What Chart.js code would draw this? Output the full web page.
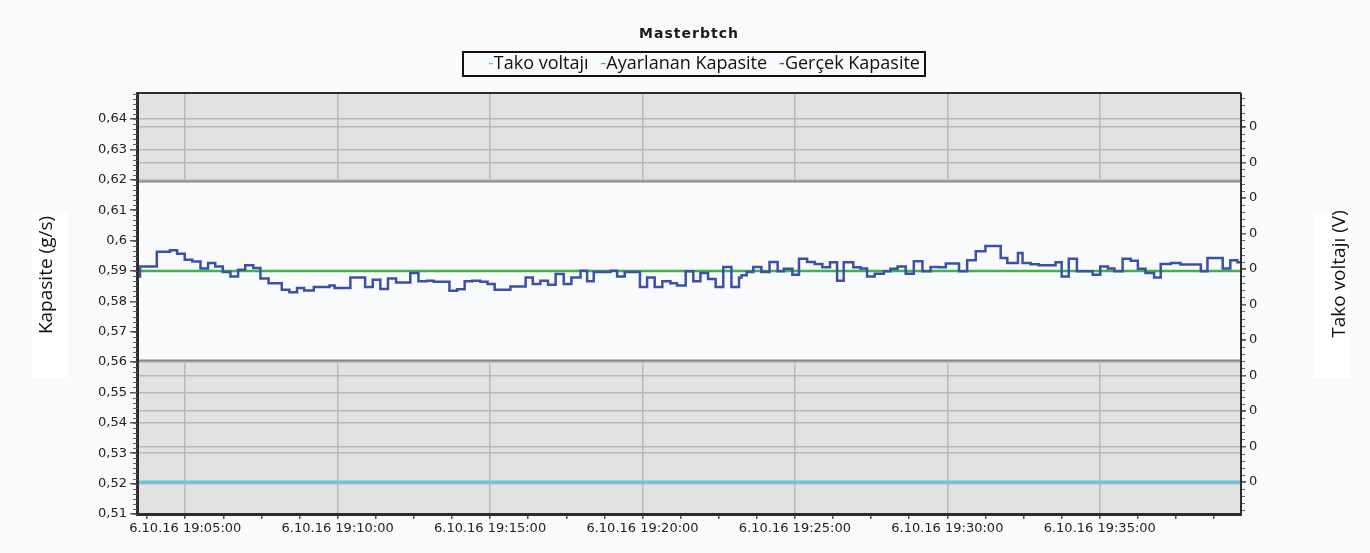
<!DOCTYPE html>
<html><head><meta charset="utf-8">
<script src="https://cdn.jsdelivr.net/npm/chart.js@4.4.1/dist/chart.umd.min.js"></script>
<style>html,body{margin:0;padding:0;background:#f9fafb;}canvas{display:block;}</style>
</head><body>
<canvas id="c" width="1370" height="553"></canvas>
<script>
// ---------- data ----------
const chartTitle = 'Masterbtch';
const seriesNames = ['Tako voltajı', 'Ayarlanan Kapasite', 'Gerçek Kapasite'];
const seriesColors = ['#62c7dc', '#3cb44b', '#3b50a6'];
const leftAxisTitle = 'Kapasite (g/s)';
const rightAxisTitle = 'Tako voltajı (V)';
const dateLabel = '6.10.16';
const timeRange = ['19:03:27', '19:39:38'];
const xTickTimes = ['19:05:00', '19:10:00', '19:15:00', '19:20:00', '19:25:00', '19:30:00', '19:35:00'];
const leftTicks = [0.51, 0.52, 0.53, 0.54, 0.55, 0.56, 0.57, 0.58, 0.59, 0.6, 0.61, 0.62, 0.63, 0.64];
const leftRange = [0.51, 0.6486];
const rightTicks = [0, 0.01, 0.02, 0.03, 0.04, 0.05, 0.06, 0.07, 0.08, 0.09, 0.10];
const rightRange = [-0.009, 0.1095];
const toleranceBand = [0.5605, 0.6195];
const setCapacity = 0.59;
const takoVoltage = 0;
const realTimes = [
 '19:03:27','19:03:31','19:04:04','19:04:30','19:04:44','19:04:59','19:05:14','19:05:30','19:05:45','19:05:59',
 '19:06:14','19:06:29','19:06:44','19:06:58','19:07:14','19:07:28','19:07:44','19:08:10','19:08:25','19:08:40',
 '19:08:54','19:09:13','19:09:44','19:09:54','19:10:25','19:10:54','19:11:09','19:11:24','19:11:39','19:11:55',
 '19:12:23','19:12:39','19:12:56','19:13:09','19:13:40','19:13:55','19:14:10','19:14:25','19:14:41','19:14:55',
 '19:15:09','19:15:40','19:16:10','19:16:24','19:16:39','19:16:54','19:17:09','19:17:25','19:17:40','19:17:58',
 '19:18:11','19:18:24','19:18:57','19:19:10','19:19:25','19:19:55','19:20:09','19:20:24','19:20:39','19:20:55',
 '19:21:08','19:21:25','19:21:40','19:21:54','19:22:09','19:22:24','19:22:39','19:22:55','19:23:10','19:23:15',
 '19:23:25','19:23:38','19:23:54','19:24:10','19:24:26','19:24:38','19:24:55','19:25:08','19:25:24','19:25:39',
 '19:25:54','19:26:09','19:26:23','19:26:36','19:26:55','19:27:09','19:27:22','19:27:37','19:27:55','19:28:08',
 '19:28:22','19:28:38','19:28:54','19:29:11','19:29:27','19:29:43','19:29:57','19:30:23','19:30:39','19:30:56',
 '19:31:15','19:31:45','19:31:58','19:32:19','19:32:28','19:32:44','19:33:00','19:33:33','19:33:45','19:33:59',
 '19:34:15','19:34:46','19:35:01','19:35:16','19:35:29','19:35:45','19:36:01','19:36:15','19:36:30','19:36:47',
 '19:37:00','19:37:20','19:37:39','19:38:19','19:38:32','19:39:02','19:39:17','19:39:31','19:39:38'
];
const realValues = [
 0.5882,0.5915,0.5963,0.5968,0.5957,0.5937,0.5931,0.5908,0.5926,0.5915,
 0.5897,0.5882,0.5904,0.5919,0.5910,0.5875,0.5860,0.5838,0.5830,0.5844,
 0.5836,0.5847,0.5852,0.5844,0.5879,0.5847,0.5871,0.5841,0.5875,0.5862,
 0.5893,0.5866,0.5868,0.5865,0.5835,0.5840,0.5866,0.5868,0.5865,0.5857,
 0.5838,0.5849,0.5879,0.5857,0.5868,0.5855,0.5890,0.5857,0.5879,0.5901,
 0.5866,0.5897,0.5901,0.5882,0.5897,0.5847,0.5879,0.5847,0.5866,0.5860,
 0.5852,0.5899,0.5866,0.5893,0.5874,0.5847,0.5913,0.5847,0.5879,0.5886,
 0.5897,0.5913,0.5897,0.5930,0.5899,0.5907,0.5888,0.5940,0.5930,0.5923,
 0.5912,0.5929,0.5868,0.5929,0.5912,0.5908,0.5882,0.5891,0.5899,0.5907,
 0.5915,0.5891,0.5932,0.5899,0.5913,0.5912,0.5925,0.5899,0.5935,0.5965,
 0.5982,0.5943,0.5926,0.5959,0.5926,0.5922,0.5919,0.5929,0.5882,0.5940,
 0.5899,0.5888,0.5915,0.5908,0.5899,0.5940,0.5934,0.5907,0.5893,0.5879,
 0.5923,0.5926,0.5921,0.5899,0.5943,0.5908,0.5935,0.5929,0.5929
];

// ---------- helpers ----------
const sec = s => { const p = s.split(':').map(Number); return p[0] * 3600 + p[1] * 60 + p[2]; };
const pad = n => String(n).padStart(2, '0');
const fmtTime = v => { const h = Math.floor(v / 3600), m = Math.floor((v % 3600) / 60), s = Math.round(v % 60); return pad(h) + ':' + pad(m) + ':' + pad(s); };
const fmtComma = v => String(Math.round(v * 100) / 100).replace('.', ',');
const xMin = sec(timeRange[0]), xMax = sec(timeRange[1]);
const majorX = new Set(xTickTimes.map(sec));
const MINOR_X = 75;
const isMajorX = v => majorX.has(Math.round(v));
const tickFont = { family: 'DejaVu Sans', size: 13 };
const gridColor = '#b9b9b9';

const bgPlugin = {
  id: 'bg',
  beforeDraw(chart) {
    const { ctx, chartArea: a } = chart;
    ctx.save();
    ctx.fillStyle = '#f9fafb';
    ctx.fillRect(0, 0, chart.width, chart.height);
    ctx.fillStyle = '#e2e2e2';
    ctx.fillRect(a.left, a.top, a.right - a.left, a.bottom - a.top);
    ctx.fillStyle = '#ffffff';
    ctx.fillRect(32, 212, 36, 166);
    ctx.fillRect(1313, 212, 38, 166);
    ctx.restore();
  },
  beforeDatasetsDraw(chart) {
    const { ctx, chartArea: a, scales } = chart;
    const yTop = scales.y.getPixelForValue(toleranceBand[1]);
    const yBot = scales.y.getPixelForValue(toleranceBand[0]);
    ctx.save();
    ctx.fillStyle = '#f9fafb';
    ctx.fillRect(a.left, yTop, a.right - a.left, yBot - yTop);
    ctx.strokeStyle = '#c6c6c6';
    ctx.lineWidth = 1;
    ctx.beginPath();
    ctx.moveTo(a.left, yTop - 2); ctx.lineTo(a.right, yTop - 2);
    ctx.moveTo(a.left, yBot + 2); ctx.lineTo(a.right, yBot + 2);
    ctx.stroke();
    ctx.strokeStyle = '#8a8a8a';
    ctx.lineWidth = 2;
    ctx.beginPath();
    ctx.moveTo(a.left, yTop); ctx.lineTo(a.right, yTop);
    ctx.moveTo(a.left, yBot); ctx.lineTo(a.right, yBot);
    ctx.stroke();
    ctx.restore();
  },
  afterDatasetsDraw(chart) {
    const { ctx, chartArea: a } = chart;
    ctx.save();
    ctx.strokeStyle = '#2c2c2c';
    ctx.lineWidth = 2;
    ctx.beginPath();
    ctx.moveTo(a.left, a.top); ctx.lineTo(a.right, a.top);
    ctx.moveTo(a.right, a.top); ctx.lineTo(a.right, a.bottom);
    ctx.stroke();
    ctx.lineWidth = 3;
    ctx.beginPath();
    ctx.moveTo(a.left - 0.5, a.top - 1); ctx.lineTo(a.left - 0.5, a.bottom + 2);
    ctx.moveTo(a.left - 2, a.bottom + 0.5); ctx.lineTo(a.right + 1, a.bottom + 0.5);
    ctx.stroke();
    ctx.restore();
  },
  afterDraw(chart) {
    const { ctx, chartArea: a, scales } = chart;
    ctx.save();
    ctx.strokeStyle = '#666';
    ctx.lineWidth = 1;
    ctx.beginPath();
    const ly = scales.y;
    for (let k = 0; ; k++) {
      const v = leftRange[0] + k * 0.01 / 6;
      if (v > leftRange[1]) break;
      const p = Math.round(ly.getPixelForValue(v)) + 0.5;
      ctx.moveTo(a.left - 5, p); ctx.lineTo(a.left - 1, p);
    }
    const ry = scales.y2;
    for (let k = -4; ; k++) {
      const v = k * 0.002;
      if (v > rightRange[1]) break;
      if (v < rightRange[0]) continue;
      const p = Math.round(ry.getPixelForValue(v)) + 0.5;
      ctx.moveTo(a.right + 1, p); ctx.lineTo(a.right + 4, p);
    }
    ctx.stroke();

    // title
    ctx.fillStyle = '#1a1a1a';
    ctx.font = 'bold 14px "DejaVu Sans"';
    ctx.textAlign = 'center';
    ctx.textBaseline = 'middle';
    if ('letterSpacing' in ctx) ctx.letterSpacing = '1px';
    ctx.fillText(chartTitle, 689, 34);
    if ('letterSpacing' in ctx) ctx.letterSpacing = '0px';

    // legend
    ctx.font = '18px "Open Sans"';
    ctx.textAlign = 'left';
    const gap = 12;
    const widths = seriesNames.map(n => ctx.measureText('-' + n).width);
    const total = widths.reduce((s, w) => s + w, 0) + gap * (seriesNames.length - 1);
    let x = 704 - total / 2;
    const start = x;
    seriesNames.forEach((n, i) => {
      ctx.fillStyle = seriesColors[i];
      ctx.fillText('-', x, 64);
      const dw = ctx.measureText('-').width;
      ctx.fillStyle = '#111';
      ctx.fillText(n, x + dw, 64);
      x += widths[i] + gap;
    });
    const end = x - gap;
    ctx.strokeStyle = '#111';
    ctx.lineWidth = 2;
    ctx.strokeRect(start - 25, 52, end - start + 30, 24);

    // axis titles
    ctx.fillStyle = '#111';
    ctx.font = '19px "Open Sans"';
    ctx.textAlign = 'center';
    ctx.textBaseline = 'middle';
    ctx.save();
    ctx.translate(47, 275);
    ctx.rotate(-Math.PI / 2);
    ctx.fillText(leftAxisTitle, 0, 0);
    ctx.restore();
    ctx.save();
    ctx.translate(1340, 274);
    ctx.rotate(-Math.PI / 2);
    ctx.fillText(rightAxisTitle, 0, 0);
    ctx.restore();
    ctx.restore();
  }
};

const realData = realTimes.map((t, i) => ({ x: sec(t), y: realValues[i] }));

new Chart(document.getElementById('c'), {
  type: 'line',
  data: {
    datasets: [
      { label: seriesNames[2], data: realData, stepped: true, borderColor: seriesColors[2], borderWidth: 2.5, pointRadius: 0, yAxisID: 'y', fill: false },
      { label: seriesNames[1], data: [{ x: xMin, y: setCapacity }, { x: xMax, y: setCapacity }], borderColor: seriesColors[1], borderWidth: 2.5, pointRadius: 0, yAxisID: 'y', fill: false },
      { label: seriesNames[0], data: [{ x: xMin, y: takoVoltage }, { x: xMax, y: takoVoltage }], borderColor: seriesColors[0], borderWidth: 3, pointRadius: 0, yAxisID: 'y2', fill: false }
    ]
  },
  options: {
    responsive: false,
    animation: false,
    devicePixelRatio: 1,
    layout: { padding: { top: 93, left: 0, right: 0, bottom: 0 } },
    plugins: { legend: { display: false }, title: { display: false }, tooltip: { enabled: false } },
    scales: {
      x: {
        type: 'linear', min: xMin, max: xMax,
        afterBuildTicks(scale) {
          const first = sec(xTickTimes[0]);
          let t = first - Math.floor((first - xMin) / MINOR_X) * MINOR_X;
          const ticks = [];
          for (; t <= xMax; t += MINOR_X) ticks.push({ value: t });
          scale.ticks = ticks;
        },
        afterFit(scale) { scale.height = 39; },
        ticks: { autoSkip: false, maxRotation: 0, padding: 2, color: '#222', font: tickFont,
          callback: v => isMajorX(v) ? dateLabel + ' ' + fmtTime(v) : '' },
        grid: { color: c => isMajorX(c.tick.value) ? gridColor : 'rgba(0,0,0,0)', lineWidth: 1.5, tickColor: '#555', tickLength: 5 },
        border: { display: false }
      },
      y: {
        type: 'linear', position: 'left', min: leftRange[0], max: leftRange[1],
        afterBuildTicks(scale) { scale.ticks = leftTicks.map(v => ({ value: v })); },
        afterFit(scale) { scale.width = 138; },
        ticks: { autoSkip: false, padding: 3, color: '#222', font: tickFont, callback: v => fmtComma(v) },
        grid: { color: gridColor, lineWidth: 1.5, tickColor: '#555', tickLength: 8 },
        border: { display: false }
      },
      y2: {
        type: 'linear', position: 'right', min: rightRange[0], max: rightRange[1],
        afterBuildTicks(scale) { scale.ticks = rightTicks.map(v => ({ value: v })); },
        afterFit(scale) { scale.width = 129; },
        ticks: { autoSkip: false, padding: 3, color: '#222', font: tickFont, callback: v => String(Math.round(v)) },
        grid: { color: gridColor, lineWidth: 1.5, tickColor: '#555', tickLength: 5, drawOnChartArea: true },
        border: { display: false }
      }
    }
  },
  plugins: [bgPlugin]
});
</script>
</body></html>
